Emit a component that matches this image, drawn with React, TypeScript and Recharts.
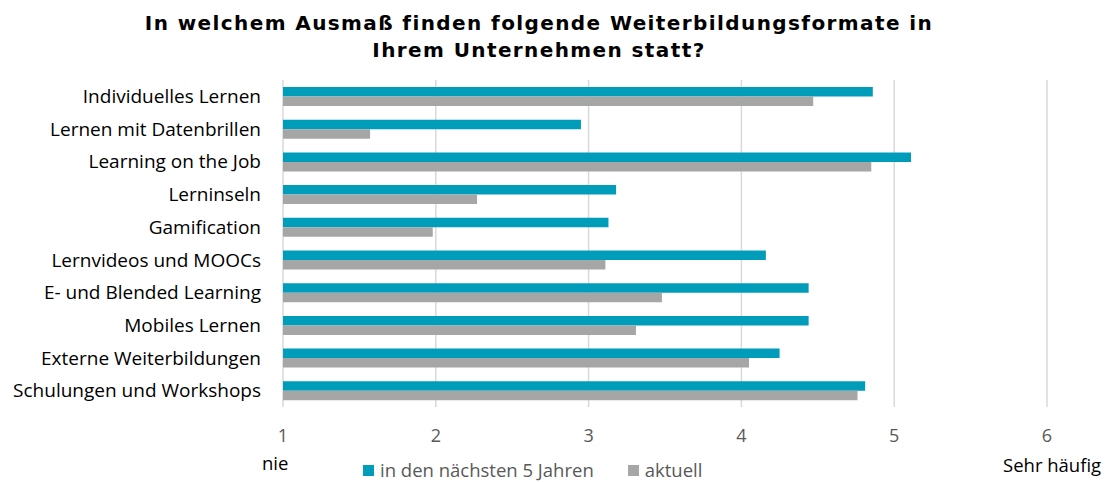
import React from "react";
import { Bar, BarChart, CartesianGrid, XAxis, YAxis } from "recharts";

const categories = [
  "Individuelles Lernen",
  "Lernen mit Datenbrillen",
  "Learning on the Job",
  "Lerninseln ",
  "Gamification",
  "Lernvideos und MOOCs",
  "E- und Blended Learning",
  "Mobiles Lernen ",
  "Externe Weiterbildungen",
  "Schulungen und Workshops",
];
const future = [4.86, 2.95, 5.11, 3.18, 3.13, 4.16, 4.44, 4.44, 4.25, 4.81];
const current = [4.47, 1.57, 4.85, 2.27, 1.98, 3.11, 3.48, 3.31, 4.05, 4.76];
const xTicks = [1, 2, 3, 4, 5, 6];

const TEAL = "#009DBB";
const GRAY = "#A6A6A6";
const FONT = "'Open Sans', Lato, sans-serif";

const data = categories.map((name, i) => ({
  name,
  future: future[i],
  current: current[i],
}));

const legendItems = [
  { label: "in den nächsten 5 Jahren", color: TEAL },
  { label: "aktuell", color: GRAY },
];

export default function App() {
  return (
    <div style={{ position: "absolute", left: 0, top: 0, width: 1108, height: 482, background: "#fff" }}>
      <div
        style={{
          position: "absolute",
          left: 0,
          top: 10,
          width: 1078,
          textAlign: "center",
          fontFamily: "'DejaVu Sans', Verdana, sans-serif",
          fontWeight: "bold",
          fontSize: 20,
          letterSpacing: 1.4,
          lineHeight: "27px",
          color: "#000",
        }}
      >
        In welchem Ausmaß finden folgende Weiterbildungsformate in
        <br />
        Ihrem Unternehmen statt?
      </div>
      <BarChart
        width={1108}
        height={482}
        data={data}
        layout="vertical"
        margin={{ top: 80, right: 61, bottom: 45, left: 0 }}
        barGap={0}
        barSize={9.5}
      >
        <CartesianGrid horizontal={false} vertical={true} stroke="#D9D9D9" strokeWidth={1.5} />
        <XAxis
          type="number"
          domain={[1, 6]}
          ticks={xTicks}
          axisLine={false}
          tickLine={false}
          height={30}
          tick={{ fill: "#595959", fontSize: 18, fontFamily: FONT }}
          tickMargin={16}
        />
        <YAxis
          type="category"
          dataKey="name"
          width={283}
          axisLine={false}
          tickLine={false}
          tickMargin={16}
          interval={0}
          tick={{ fill: "#000", fontSize: 19, fontFamily: FONT }}
        />
        <Bar dataKey="future" name="in den nächsten 5 Jahren" fill={TEAL} isAnimationActive={false} />
        <Bar dataKey="current" name="aktuell" fill={GRAY} isAnimationActive={false} />
      </BarChart>
      <div
        style={{
          position: "absolute",
          left: 363,
          top: 461,
          display: "flex",
          gap: 34,
          fontFamily: FONT,
          fontSize: 18.5,
          lineHeight: "18px",
          color: "#595959",
        }}
      >
        {legendItems.map((it) => (
          <div key={it.label} style={{ display: "flex", alignItems: "center" }}>
            <span style={{ width: 11, height: 11, background: it.color, marginRight: 6, display: "inline-block" }} />
            {it.label}
          </div>
        ))}
      </div>
      <div style={{ position: "absolute", left: 262, top: 450, fontFamily: FONT, fontSize: 18.5, lineHeight: "26px", color: "#000" }}>
        nie
      </div>
      <div style={{ position: "absolute", left: 1003, top: 452, fontFamily: FONT, fontSize: 18.5, lineHeight: "26px", color: "#000" }}>
        Sehr häufig
      </div>
    </div>
  );
}
